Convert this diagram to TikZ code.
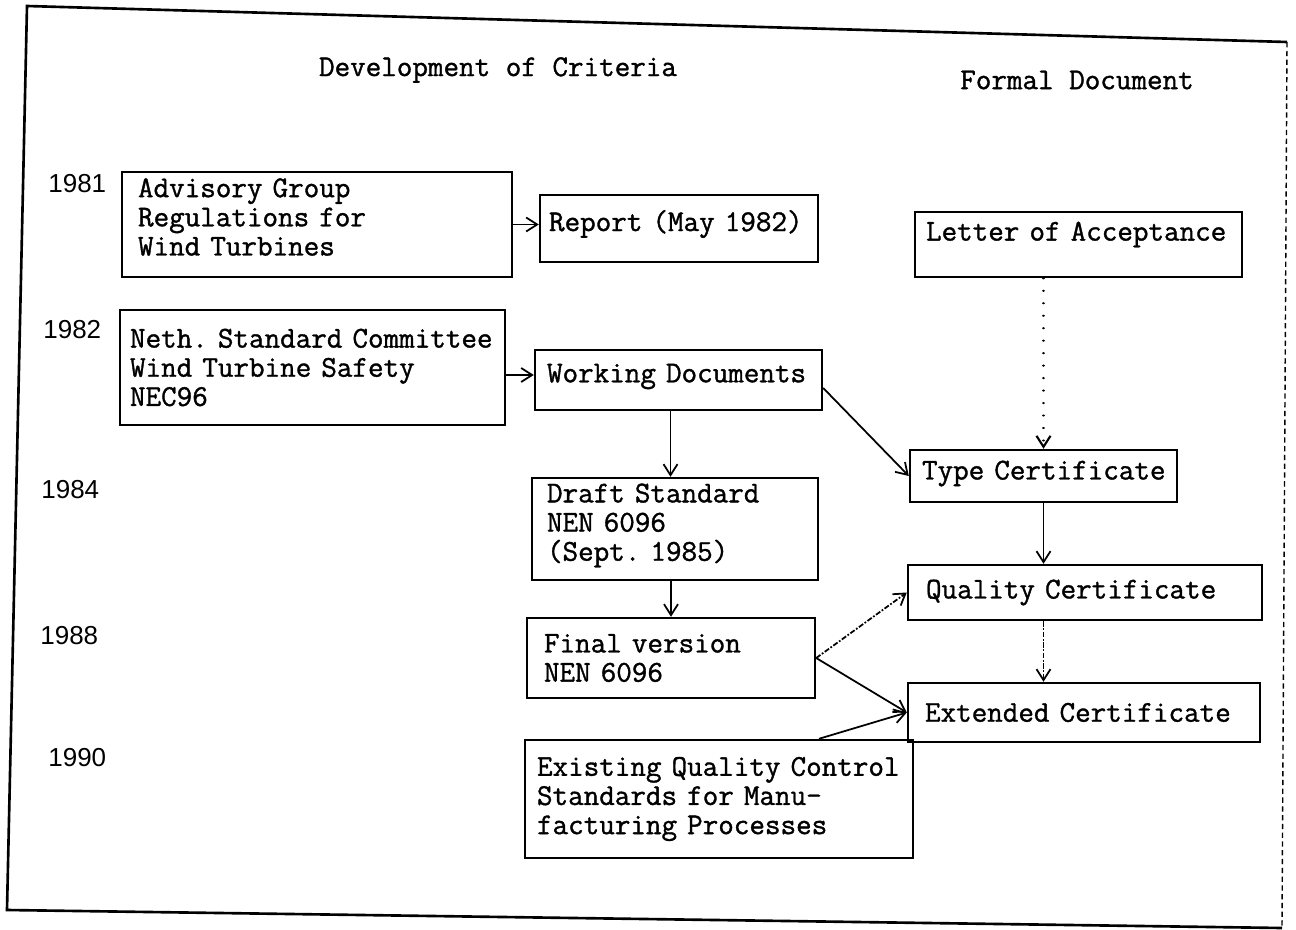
\documentclass[tikz,border=0pt]{standalone}
\usepackage{fontspec}
\setmonofont{Latin Modern Mono}[WordSpace={1,0,0},PunctuationSpace=WordSpace,FakeBold=1.2]
\newfontfamily\yearfont{Liberation Sans}
\usetikzlibrary{arrows.meta}

\begin{document}
\begin{tikzpicture}[x=0.02cm,y=-0.02cm,
	box/.style={draw,line width=1.4pt,align=left,inner ysep=0pt,font=\ttfamily\bfseries\fontsize{17.2}{16.6}\selectfont},
	yr/.style={anchor=west,inner sep=0pt,font=\yearfont\fontsize{14.8}{16}\selectfont},
	head/.style={font=\ttfamily\bfseries\fontsize{17.2}{17}\selectfont},
	arr/.style={-{Straight Barb[length=2.2mm,width=2.8mm]},line width=1pt}]
	\useasboundingbox (0,0) rectangle (1296,930);
	\frenchspacing

	\draw[line width=1.5pt] (1287,42) -- (27,6) -- (7,910) -- (1282,928); % frame
	\draw[densely dashed,line width=0.8pt] (1287,42) -- (1282,928); % frame right edge

	\node[head] (hcrit) at (498,70) {Development of Criteria}; % left heading
	\node[head] (hform) at (1077,80) {Formal Document}; % right heading

	\node[yr] (y81) at (48,184) {1981};
	\node[yr] (y82) at (43,330) {1982};
	\node[yr] (y84) at (41,490) {1984};
	\node[yr] (y88) at (40,636) {1988};
	\node[yr] (y90) at (48,758) {1990};

	\node[box,minimum height=2.1cm,text width=7.16cm,inner xsep=0.32cm] (adv) at (317,224.5) {Advisory~Group\\Regulations~for\\Wind~Turbines\vspace*{0.3cm}};
	\node[box,minimum height=1.34cm,text width=5.2cm,inner xsep=0.18cm] (rep) at (679,228.5) {Report~(May~1982)\vspace*{0.18cm}};
	\node[box,minimum height=1.3cm,text width=6.1cm,inner xsep=0.22cm] (let) at (1078.5,244.5) {Letter~of~Acceptance\vspace*{0.4cm}};
	\node[box,minimum height=2.3cm,text width=7.3cm,inner xsep=0.2cm] (neth) at (312.5,367.5) {Neth.~Standard~Committee\\Wind~Turbine~Safety\\NEC96};
	\node[box,minimum height=1.2cm,text width=5.26cm,inner xsep=0.24cm] (wrk) at (678.5,380) {Working~Documents\vspace*{0.14cm}};
	\node[box,minimum height=1.04cm,text width=4.86cm,inner xsep=0.24cm] (typ) at (1043.5,476) {Type~Certificate\vspace*{0.1cm}};
	\node[box,minimum height=2.04cm,text width=5.12cm,inner xsep=0.3cm] (dra) at (675,529) {Draft~Standard\\NEN~6096\\(Sept.~1985)\vspace*{0.14cm}};
	\node[box,minimum height=1.1cm,text width=6.36cm,inner xsep=0.36cm] (qua) at (1085,592.5) {Quality~Certificate};
	\node[box,minimum height=1.6cm,text width=5.08cm,inner xsep=0.34cm] (fin) at (671,658) {Final~version\\NEN~6096};
	\node[box,minimum height=1.18cm,text width=6.36cm,inner xsep=0.34cm] (ext) at (1084,712.5) {Extended~Certificate};
	\node[box,minimum height=2.36cm,text width=7.28cm,inner xsep=0.24cm] (exi) at (719,799) {Existing~Quality~Control\\Standards~for~Manu-\\facturing~Processes};

	\draw[arr] (adv.east) -- (adv.east -| rep.west);
	\draw[arr] ([yshift=-0.15cm]neth.east) -- ([yshift=-0.15cm]neth.east -| wrk.west);
	\draw[arr] ([xshift=-0.16cm]wrk.south) -- ([xshift=-0.16cm]wrk.south |- dra.north);
	\draw[arr] ([yshift=-0.16cm]wrk.east) -- (typ.west);
	\draw[arr,line width=1.2pt,line cap=round,dash pattern=on 0.1pt off 7pt] (let.south -| typ.north) -- (typ.north); % dotted link
	\draw[arr] (typ.south) -- (typ.south |- qua.north);
	\draw[arr] (fin.north |- dra.south) -- (fin.north);
	\draw[arr,densely dashdotted] (fin.east) -- (qua.west);
	\draw[arr] (fin.east) -- (ext.west);
	\draw[arr,densely dashdotted] (typ.south |- qua.south) -- (typ.south |- ext.north);
	\draw[arr] ([xshift=2cm]exi.north) -- (ext.west);
\end{tikzpicture}
\end{document}
